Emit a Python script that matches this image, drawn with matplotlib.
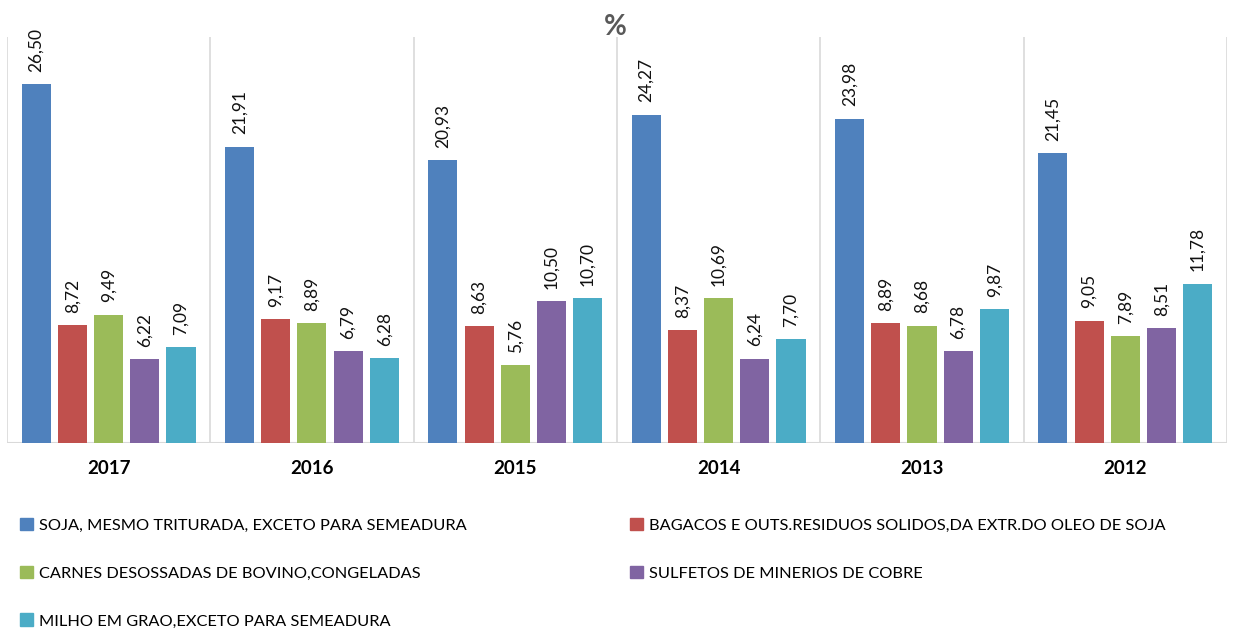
import numpy as np
import matplotlib.pyplot as plt
from matplotlib.patches import Patch

# dados
anos = ['2017', '2016', '2015', '2014', '2013', '2012']
soja = [26.50, 21.91, 20.93, 24.27, 23.98, 21.45]
bagacos = [8.72, 9.17, 8.63, 8.37, 8.89, 9.05]
carnes = [9.49, 8.89, 5.76, 10.69, 8.68, 7.89]
sulfetos = [6.22, 6.79, 10.50, 6.24, 6.78, 8.51]
milho = [7.09, 6.28, 10.70, 7.70, 9.87, 11.78]

nomes = ['SOJA, MESMO TRITURADA, EXCETO PARA SEMEADURA',
         'BAGACOS E OUTS.RESIDUOS SOLIDOS,DA EXTR.DO OLEO DE SOJA',
         'CARNES DESOSSADAS DE BOVINO,CONGELADAS',
         'SULFETOS DE MINERIOS DE COBRE',
         'MILHO EM GRAO,EXCETO PARA SEMEADURA']
series = [soja, bagacos, carnes, sulfetos, milho]
cores = ['#4F81BD', '#C0504D', '#9BBB59', '#8064A2', '#4BACC6']

plt.rcParams['font.family'] = ['Lato', 'DejaVu Sans']

fig = plt.figure(figsize=(12.41, 6.29), dpi=100)
ax = fig.add_axes([0.0056, 0.2957, 0.9831, 0.6453])

x = np.arange(len(anos))
passo = 0.178
largura = 0.143
for i, (vals, cor) in enumerate(zip(series, cores)):
    pos = x + (i - 2) * passo
    ax.bar(pos, vals, width=largura, color=cor)
    for p, v in zip(pos, vals):
        ax.text(p, v + 0.9, f'{v:.2f}'.replace('.', ','), rotation=90,
                ha='center', va='bottom', fontsize=12.5, color='#111111')

# separadores entre grupos
for b in np.arange(len(anos) + 1) - 0.5:
    ax.axvline(b, color='#D9D9D9', linewidth=1.2, zorder=0)
ax.axhline(0, color='#D9D9D9', linewidth=1.5, zorder=0)

ax.set_xlim(-0.5, len(anos) - 0.5)
ax.set_ylim(0, 30)
ax.set_yticks([])
ax.set_xticks(x)
ax.set_xticklabels(anos, fontsize=13.5, fontweight='bold')
ax.tick_params(axis='x', length=0, pad=12)
for s in ax.spines.values():
    s.set_visible(False)

fig.text(0.496, 0.957, '%', ha='center', va='center', fontsize=20,
         fontweight='bold', color='#595959')

# legenda em duas colunas
h = [Patch(color=c) for c in cores]
kw = dict(frameon=False, handlelength=0.8, handleheight=0.8,
          handletextpad=0.35, labelspacing=2.0, loc='upper left',
          prop={'size': 11.8})
fig.legend([h[0], h[2], h[4]], [nomes[0], nomes[2], nomes[4]],
           bbox_to_anchor=(0.004, 0.2), **kw)
fig.legend([h[1], h[3]], [nomes[1], nomes[3]],
           bbox_to_anchor=(0.496, 0.2), **kw)

fig.savefig('out.png', dpi=100)
